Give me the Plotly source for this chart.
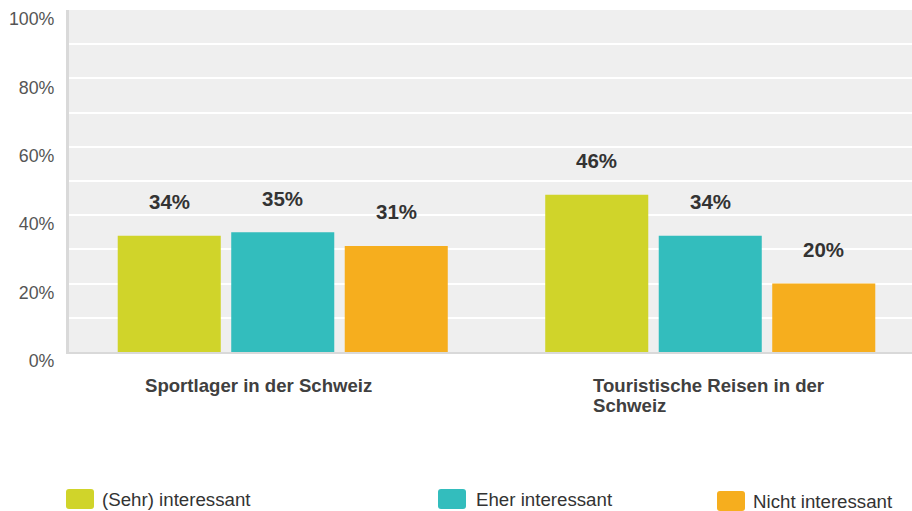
import plotly.graph_objects as go

categories = ["Sportlager in der Schweiz", "Touristische Reisen in der<br>Schweiz"]
series_names = ["(Sehr) interessant", "Eher interessant", "Nicht interessant"]
series_values = [
    [34, 46],
    [35, 34],
    [31, 20],
]
colors = ["#d0d42a", "#33bdbd", "#f6ae1e"]
y_ticks = [0, 20, 40, 60, 80, 100]

W, H = 912, 511
ML, MR, MT, MB = 69, 0, 10, 159
PW = W - ML - MR
PH = H - MT - MB
GROUP_PX = 427.5           # pixel width of one category slot
X_RANGE = [-0.5, -0.5 + PW / GROUP_PX]
SPACING = 0.2655
BAR_W = 0.241
FONT = "Liberation Sans, Arial"

def px2x(px):
    return (px - ML) / PW

def px2y(py):
    return (MT + PH - py) / PH

fig = go.Figure()
for j, (name, vals, col) in enumerate(zip(series_names, series_values, colors)):
    xs = [i + (j - 1) * SPACING for i in range(len(categories))]
    fig.add_trace(go.Bar(
        x=xs, y=vals, name=name, width=BAR_W,
        marker=dict(color=col, line=dict(width=0)),
        showlegend=False, hoverinfo="y",
    ))
    for x, v in zip(xs, vals):
        fig.add_annotation(
            x=x, y=v, xref="x", yref="y", text=f"<b>{v}%</b>",
            showarrow=False, yanchor="middle", yshift=34,
            font=dict(family=FONT, size=20.5, color="#333333"),
        )

# category labels (left-aligned blocks under each group), 20px line spacing
cat_left_px = [143, 591]
for cat, lpx in zip(categories, cat_left_px):
    for k, line in enumerate(cat.split("<br>")):
        fig.add_annotation(
            x=px2x(lpx), y=px2y(385 + 20 * k), xref="paper", yref="paper",
            text=f"<b>{line}</b>", showarrow=False, xanchor="left", yanchor="middle",
            font=dict(family=FONT, size=18.6, color="#404040"),
        )

# legend drawn as rounded boxes + text
legend_box_px = [(66, 489), (438, 489), (717, 491)]
legend_text_px = [100, 474, 751]
def rounded(x0, y0, x1, y1, r=3):
    X0, X1 = px2x(x0), px2x(x1)
    Y0, Y1 = px2y(y0), px2y(y1)
    rx, ry = r / PW, r / PH
    return (f"M {X0+rx},{Y0} L {X1-rx},{Y0} Q {X1},{Y0} {X1},{Y0-ry} "
            f"L {X1},{Y1+ry} Q {X1},{Y1} {X1-rx},{Y1} L {X0+rx},{Y1} "
            f"Q {X0},{Y1} {X0},{Y1+ry} L {X0},{Y0-ry} Q {X0},{Y0} {X0+rx},{Y0} Z")
for name, col, (bx, by), tx in zip(series_names, colors, legend_box_px, legend_text_px):
    fig.add_shape(type="path", xref="paper", yref="paper",
                  path=rounded(bx, by, bx + 28, by + 20),
                  fillcolor=col, line=dict(width=0))
    fig.add_annotation(
        x=px2x(tx), y=px2y(by + 10), xref="paper", yref="paper",
        text=name, showarrow=False, xanchor="left", yanchor="middle",
        font=dict(family=FONT, size=18.7, color="#333333"),
    )

fig.update_layout(
    width=W, height=H, autosize=False,
    margin=dict(l=ML, r=MR, t=MT, b=MB, pad=0, autoexpand=False),
    paper_bgcolor="white", plot_bgcolor="#efefef",
    barmode="overlay", showlegend=False,
    font=dict(family=FONT, size=16, color="#555555"),
    xaxis=dict(range=X_RANGE, showticklabels=False, showgrid=False, zeroline=False,
               showline=True, linecolor="#d9d9d9", linewidth=2, fixedrange=True,
               automargin=False),
    yaxis=dict(range=[0, 100], tickvals=y_ticks, ticktext=[f"{t}%" for t in y_ticks],
               showgrid=True, gridcolor="white", gridwidth=2,
               minor=dict(dtick=10, showgrid=True, gridcolor="white", gridwidth=2),
               zeroline=False, showline=True, linecolor="#d9d9d9", linewidth=3,
               ticks="", ticklabelstandoff=8, ticklabelshift=9,
               tickfont=dict(family=FONT, size=17.8, color="#555555"),
               fixedrange=True, automargin=False),
)

fig.write_html(
    "out.html",
    config={"displayModeBar": False},
    post_script="document.body.style.margin='0';document.body.style.overflow='hidden';",
)
